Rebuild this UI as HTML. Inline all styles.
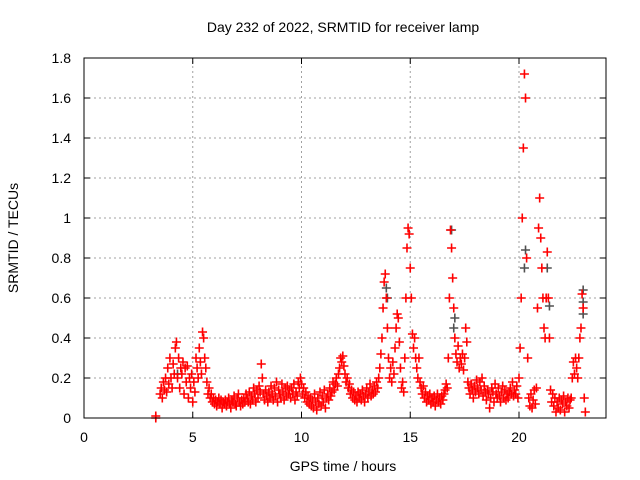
<!DOCTYPE html>
<html><head><meta charset="utf-8"><style>
html,body{margin:0;padding:0;background:#fff}
svg{display:block;font-family:"Liberation Sans",sans-serif}
</style></head><body>
<svg id="chart" width="640" height="480">
<text x="343" y="32" text-anchor="middle" font-size="14">Day 232 of 2022, SRMTID for receiver lamp</text>
<text x="343" y="471" text-anchor="middle" font-size="14">GPS time / hours</text>
<text transform="translate(18,238) rotate(-90)" text-anchor="middle" font-size="14">SRMTID / TECUs</text>
<g id="grid"></g><g id="ticks"></g><g id="marks"></g>
<rect x="84" y="58" width="522" height="360" fill="none" stroke="#000" stroke-width="1"/>
</svg>
<script>
const xTicks=[0,5,10,15,20];
const yTicks=[0,0.2,0.4,0.6,0.8,1,1.2,1.4,1.6,1.8];
const yTickLabels=["0","0.2","0.4","0.6","0.8","1","1.2","1.4","1.6","1.8"];
const startHour=3.5, stepHour=0.05;
const tecu=[
0.12,0.15,0.1,0.18,0.14,0.2,0.13,0.25,0.17,0.3,0.2,0.15,0.27,0.22,0.35,0.38,0.2,0.3,0.15,0.25,
0.22,0.28,0.12,0.25,0.18,0.26,0.1,0.2,0.15,0.22,0.08,0.18,0.13,0.3,0.25,0.2,0.35,0.28,0.22,0.43,
0.4,0.3,0.25,0.18,0.12,0.15,0.1,0.12,0.08,0.1,0.07,0.09,0.06,0.08,0.1,0.07,0.09,0.05,0.08,0.07,
0.09,0.06,0.08,0.1,0.07,0.05,0.09,0.08,0.11,0.07,0.06,0.1,0.12,0.08,0.06,0.09,0.07,0.1,0.08,0.12,
0.1,0.08,0.13,0.07,0.11,0.09,0.15,0.12,0.08,0.14,0.1,0.16,0.13,0.27,0.2,0.12,0.09,0.14,0.11,0.08,
0.13,0.1,0.16,0.12,0.09,0.15,0.11,0.18,0.08,0.14,0.12,0.1,0.17,0.13,0.09,0.15,0.11,0.16,0.12,0.14,
0.1,0.15,0.12,0.17,0.09,0.13,0.11,0.18,0.15,0.2,0.17,0.12,0.15,0.1,0.13,0.08,0.11,0.07,0.1,0.06,
0.09,0.05,0.12,0.08,0.04,0.1,0.07,0.13,0.06,0.11,0.08,0.14,0.05,0.1,0.12,0.09,0.15,0.11,0.13,0.18,
0.14,0.17,0.2,0.16,0.22,0.25,0.3,0.28,0.31,0.26,0.22,0.18,0.2,0.15,0.17,0.12,0.14,0.1,0.13,0.09,
0.11,0.08,0.13,0.1,0.12,0.09,0.14,0.11,0.08,0.12,0.15,0.1,0.13,0.17,0.11,0.14,0.12,0.16,0.13,0.18,
0.15,0.2,0.25,0.32,0.4,0.55,0.68,0.72,0.6,0.45,0.3,0.2,0.25,0.18,0.28,0.22,0.35,0.45,0.52,0.5,
0.38,0.25,0.15,0.18,0.13,0.3,0.6,0.85,0.95,0.92,0.75,0.6,0.42,0.35,0.4,0.3,0.25,0.2,0.3,0.18,
0.15,0.12,0.16,0.1,0.13,0.08,0.11,0.09,0.12,0.07,0.1,0.08,0.11,0.06,0.09,0.12,0.08,0.1,0.07,0.11,
0.09,0.12,0.14,0.17,0.15,0.3,0.6,0.94,0.85,0.7,0.55,0.4,0.32,0.28,0.36,0.25,0.3,0.27,0.32,0.24,
0.3,0.45,0.38,0.18,0.15,0.12,0.17,0.14,0.1,0.16,0.13,0.19,0.15,0.12,0.18,0.14,0.2,0.11,0.16,0.13,
0.09,0.14,0.12,0.05,0.1,0.15,0.13,0.08,0.17,0.12,0.1,0.15,0.11,0.08,0.13,0.16,0.1,0.14,0.09,0.12,
0.1,0.13,0.15,0.12,0.18,0.11,0.14,0.12,0.16,0.1,0.2,0.35,0.6,1.0,1.35,1.72,1.6,0.8,0.3,0.1,
0.06,0.12,0.05,0.09,0.14,0.07,0.15,0.55,0.95,1.1,0.9,0.75,0.6,0.45,0.4,0.6,0.83,0.6,0.4,0.14,
0.08,0.12,0.06,0.1,0.03,0.08,0.05,0.1,0.04,0.09,0.07,0.11,0.03,0.08,0.06,0.1,0.05,0.09,0.1,0.2,
0.28,0.22,0.3,0.25,0.2,0.3,0.4,0.45,0.62,0.55,0.1,0.03
];
const extraHours=[3.3,3.3];
const extraTecu=[0,0.01];
const grayHours=[4.3,13.9,13.95,16.9,17.0,17.05,20.25,20.3,21.3,21.4,22.95,22.95,22.95];
const grayTecu=[0.22,0.65,0.6,0.94,0.45,0.5,0.75,0.84,0.75,0.56,0.64,0.58,0.52];

const NS="http://www.w3.org/2000/svg";
const X0=84,X1=606,Y0=418,Y1=58;
function xs(h){return X0+(X1-X0)*h/24;}
function ys(v){return Y0-(Y0-Y1)*v/1.8;}
function mk(tag,attrs,parent){const e=document.createElementNS(NS,tag);for(const k in attrs)e.setAttribute(k,attrs[k]);parent.appendChild(e);return e;}
const grid=document.getElementById('grid'),ticks=document.getElementById('ticks'),marks=document.getElementById('marks');
xTicks.forEach(t=>{
  const x=xs(t);
  if(t>0){const g=mk('line',{x1:x,x2:x,y1:Y0,y2:Y1,stroke:'#a0a0a0','stroke-dasharray':'2,3'},grid);
  
  }
  mk('line',{x1:x,x2:x,y1:Y0,y2:Y0-6,stroke:'#000'},ticks);
  mk('line',{x1:x,x2:x,y1:Y1,y2:Y1+6,stroke:'#000'},ticks);
  const l=mk('text',{x:x,y:442,'text-anchor':'middle','font-size':'14'},ticks);
  l.textContent=t;
  
  
});
yTicks.forEach((v,i)=>{
  const y=ys(v);
  if(v>0&&v<1.8){const g=mk('line',{x1:X0,x2:X1,y1:y,y2:y,stroke:'#a0a0a0','stroke-dasharray':'2,3'},grid);
  
  }
  mk('line',{x1:X0,x2:X0+6,y1:y,y2:y,stroke:'#000'},ticks);
  mk('line',{x1:X1,x2:X1-6,y1:y,y2:y,stroke:'#000'},ticks);
  const l=mk('text',{x:71,y:y+5,'text-anchor':'end','font-size':'14'},ticks);
  l.textContent=yTickLabels[i];
  
  
});
function plus(h,v,color,name){
  const x=xs(h),y=ys(v);
  const p=mk('path',{d:`M${x-4.5},${y}h9M${x},${y-4.5}v9`,stroke:color,'stroke-width':'1.6',fill:'none'},marks);
  
  
}
grayHours.forEach((h,i)=>plus(h,grayTecu[i],'#505050','gray-point'));
tecu.forEach((v,i)=>plus(startHour+i*stepHour,v,'#ff0000','srmtid-point'));
extraHours.forEach((h,i)=>plus(h,extraTecu[i],'#ff0000','srmtid-point'));
</script>
</body></html>
